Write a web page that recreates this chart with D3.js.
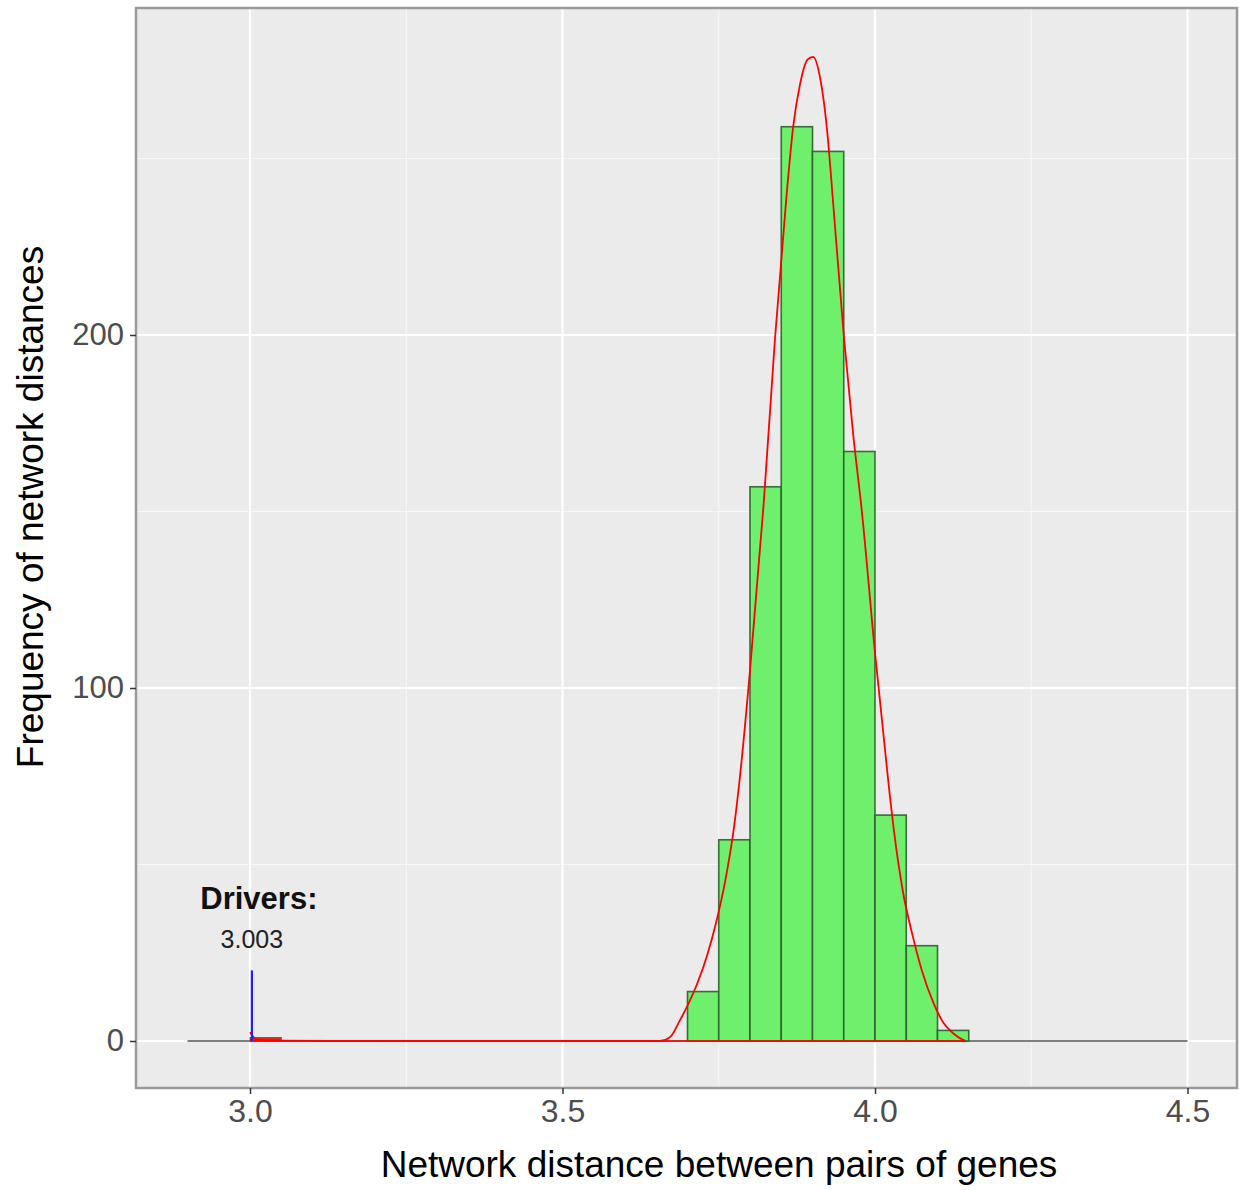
<!DOCTYPE html>
<html>
<head>
<meta charset="utf-8">
<script src="https://cdn.jsdelivr.net/npm/d3@7"></script>
<style>
  body { margin: 0; background: #fff; }
  svg text { font-family: "Liberation Sans", Arial, sans-serif; }
</style>
</head>
<body>
<div id="chart"></div>
<script>
// --- Histogram bins (left edge) and counts ---
const BIN_WIDTH = 0.05;
const binStarts = [3.70, 3.75, 3.80, 3.85, 3.90, 3.95, 4.00, 4.05, 4.10];
const binCounts = [14, 57, 157, 259, 252, 167, 64, 27, 3];

// zero-count bins drawn as a flat outline over the whole histogram range
const histRange = [2.90, 4.50];

// driver bin (tiny red bar) and the marker
const driverBinStart = [3.00];
const driverBinCount = [1];
const driverValue = 3.003;
const driverMarkHeight = 20;
const driverLabel = "Drivers:";
const driverValueLabel = "3.003";

// red density curve (x, scaled count)
const densityX = [3.000, 3.004, 3.010, 3.050, 3.300, 3.600, 3.656, 3.672, 3.688, 3.700, 3.715, 3.731,
  3.745, 3.760, 3.774, 3.784, 3.800, 3.822, 3.840, 3.858, 3.869, 3.880, 3.892, 3.901, 3.912, 3.925,
  3.931, 3.950, 3.965, 3.979, 4.000, 4.021, 4.030, 4.045, 4.060, 4.075, 4.093, 4.110, 4.125, 4.140, 4.145];
const densityY = [2.5, 1.5, 0.4, 0.1, 0, 0, 0, 1.1, 5.9, 10, 16, 24,
  33, 45, 60, 75, 105, 152.5, 199, 238.5, 258.9, 271, 278, 278.8, 273, 255,
  242, 200, 172, 150, 110, 74, 60, 42, 30, 20, 11, 5, 2.2, 0.4, 0];

// axes
const xTicks = [3.0, 3.5, 4.0, 4.5];
const xMinor = [3.25, 3.75, 4.25];
const yTicks = [0, 100, 200];
const yMinor = [50, 150, 250];
const xTitle = "Network distance between pairs of genes";
const yTitle = "Frequency of network distances";

const W = 1239, H = 1190;
const panel = { left: 136, top: 8, right: 1237, bottom: 1088 };

const x = d3.scaleLinear().domain([3.0, 4.5]).range([250, 1187.5]);
const y = d3.scaleLinear().domain([0, 200]).range([1041, 335]);

const svg = d3.select("#chart").append("svg")
  .attr("width", W).attr("height", H);

// panel background
svg.append("rect")
  .attr("x", panel.left).attr("y", panel.top)
  .attr("width", panel.right - panel.left).attr("height", panel.bottom - panel.top)
  .attr("fill", "#ebebeb");

const grid = svg.append("g");
grid.selectAll(".xminor").data(xMinor).enter().append("line")
  .attr("x1", d => x(d)).attr("x2", d => x(d))
  .attr("y1", panel.top).attr("y2", panel.bottom)
  .attr("stroke", "#f7f7f7").attr("stroke-width", 1);
grid.selectAll(".yminor").data(yMinor).enter().append("line")
  .attr("y1", d => y(d)).attr("y2", d => y(d))
  .attr("x1", panel.left).attr("x2", panel.right)
  .attr("stroke", "#f7f7f7").attr("stroke-width", 1);
grid.selectAll(".xmajor").data(xTicks).enter().append("line")
  .attr("x1", d => x(d)).attr("x2", d => x(d))
  .attr("y1", panel.top).attr("y2", panel.bottom)
  .attr("stroke", "#ffffff").attr("stroke-width", 2.2);
grid.selectAll(".ymajor").data(yTicks).enter().append("line")
  .attr("y1", d => y(d)).attr("y2", d => y(d))
  .attr("x1", panel.left).attr("x2", panel.right)
  .attr("stroke", "#ffffff").attr("stroke-width", 2.2);

// flat outline of empty bins
svg.append("line")
  .attr("x1", x(histRange[0])).attr("x2", x(histRange[1]))
  .attr("y1", y(0)).attr("y2", y(0))
  .attr("stroke", "#555").attr("stroke-width", 1.5);

// histogram bars
svg.selectAll(".bar").data(binStarts).enter().append("rect")
  .attr("x", d => x(d))
  .attr("width", d => x(d + BIN_WIDTH) - x(d))
  .attr("y", (d, i) => y(binCounts[i]))
  .attr("height", (d, i) => y(0) - y(binCounts[i]))
  .attr("fill", "#6ef06c")
  .attr("stroke", "#2a5f2b")
  .attr("stroke-opacity", 0.9)
  .attr("stroke-width", 1.6);

// driver bin
svg.selectAll(".dbar").data(driverBinStart).enter().append("rect")
  .attr("x", d => x(d))
  .attr("width", d => x(d + BIN_WIDTH) - x(d))
  .attr("y", (d, i) => y(driverBinCount[i]))
  .attr("height", (d, i) => y(0) - y(driverBinCount[i]))
  .attr("fill", "#e0281c")
  .attr("stroke", "#b03020")
  .attr("stroke-width", 0.8);

// density curve
const pts = densityX.map((d, i) => [d, densityY[i]]);
svg.append("path")
  .datum(pts)
  .attr("fill", "none")
  .attr("stroke", "#ff0000")
  .attr("stroke-width", 1.8)
  .attr("d", d3.line().x(d => x(d[0])).y(d => y(d[1])).curve(d3.curveMonotoneX));
// baseline of the density outline
svg.append("line")
  .attr("x1", x(densityX[0])).attr("x2", x(densityX[densityX.length - 1]))
  .attr("y1", y(0)).attr("y2", y(0))
  .attr("stroke", "#ff0000").attr("stroke-width", 1.6);

// driver marker
svg.append("line")
  .attr("x1", x(driverValue)).attr("x2", x(driverValue))
  .attr("y1", y(0)).attr("y2", y(driverMarkHeight))
  .attr("stroke", "#2020ff").attr("stroke-width", 2.2);
svg.append("text")
  .attr("x", x(driverValue) + 7).attr("y", 909)
  .attr("text-anchor", "middle")
  .attr("font-size", 31).attr("font-weight", "bold")
  .attr("fill", "#111")
  .text(driverLabel);
svg.append("text")
  .attr("x", x(driverValue)).attr("y", 948)
  .attr("text-anchor", "middle")
  .attr("font-size", 25)
  .attr("fill", "#222")
  .text(driverValueLabel);

// panel border
svg.append("rect")
  .attr("x", panel.left).attr("y", panel.top)
  .attr("width", panel.right - panel.left).attr("height", panel.bottom - panel.top)
  .attr("fill", "none")
  .attr("stroke", "#9a9a9a").attr("stroke-width", 2.5);

// x axis
const xAxis = svg.append("g")
  .attr("transform", `translate(0,${panel.bottom})`)
  .call(d3.axisBottom(x).tickValues(xTicks).tickFormat(d3.format(".1f")).tickSize(6).tickPadding(5));
xAxis.select(".domain").remove();
xAxis.selectAll("line").attr("stroke", "#333").attr("stroke-width", 1.5);
xAxis.selectAll("text").attr("font-size", 32).attr("fill", "#4d4d4d")
  .attr("font-family", "Liberation Sans, Arial, sans-serif");

// y axis
const yAxis = svg.append("g")
  .attr("transform", `translate(${panel.left},0)`)
  .call(d3.axisLeft(y).tickValues(yTicks).tickSize(6).tickPadding(6));
yAxis.select(".domain").remove();
yAxis.selectAll("line").attr("stroke", "#333").attr("stroke-width", 1.5);
yAxis.selectAll("text").attr("font-size", 31).attr("fill", "#4d4d4d")
  .attr("font-family", "Liberation Sans, Arial, sans-serif");

// titles
svg.append("text")
  .attr("x", 719).attr("y", 1177)
  .attr("text-anchor", "middle")
  .attr("font-size", 37).attr("fill", "#000")
  .text(xTitle);
svg.append("text")
  .attr("transform", `translate(43,507) rotate(-90)`)
  .attr("text-anchor", "middle")
  .attr("font-size", 37).attr("fill", "#000")
  .text(yTitle);
</script>
</body>
</html>
